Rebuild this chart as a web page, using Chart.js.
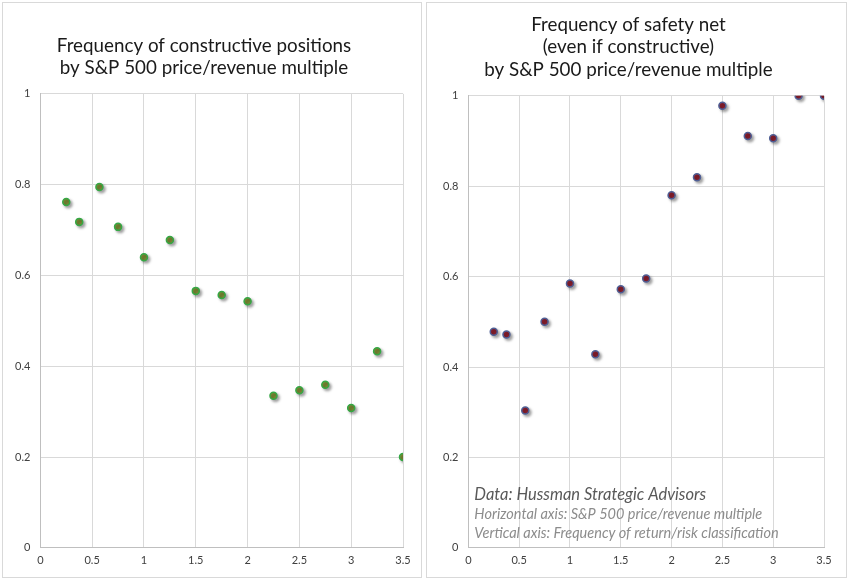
<!DOCTYPE html>
<html><head><meta charset="utf-8">
<script src="https://cdn.jsdelivr.net/npm/chart.js@4"></script>
<style>
body{margin:0;background:#fff;width:849px;height:581px;position:relative;overflow:hidden}
.p{position:absolute;top:2px;height:576px;border:1px solid #d9d9d9;box-sizing:border-box}
</style></head><body>
<div class="p" style="left:2px;width:420px"><canvas id="c1"></canvas></div>
<div class="p" style="left:426px;width:421px"><canvas id="c2"></canvas></div>
<script>
const leftX=[0.25,0.375,0.57,0.75,1,1.25,1.5,1.75,2,2.25,2.5,2.75,3,3.25,3.5];
const leftY=[0.762,0.718,0.795,0.707,0.640,0.678,0.566,0.557,0.543,0.335,0.347,0.359,0.308,0.433,0.200];
const rightX=[0.25,0.375,0.56,0.75,1,1.25,1.5,1.75,2,2.25,2.5,2.75,3,3.25,3.5];
const rightY=[0.478,0.472,0.304,0.500,0.585,0.428,0.572,0.596,0.780,0.820,0.978,0.911,0.906,1.0,1.0];
const leftTitle=["Frequency of constructive positions","by S&P 500 price/revenue multiple"];
const rightTitle=["Frequency of safety net","(even if constructive)","by S&P 500 price/revenue multiple"];
const notes=["Data: Hussman Strategic Advisors","Horizontal axis: S&P 500 price/revenue multiple","Vertical axis: Frequency of return/risk classification"];

const shadow={id:'sh',beforeDatasetsDraw(c){c.ctx.save();c.ctx.shadowColor='rgba(0,0,0,0.35)';c.ctx.shadowBlur=3;c.ctx.shadowOffsetX=2;c.ctx.shadowOffsetY=2;},afterDatasetsDraw(c){c.ctx.restore();}};
const fmt=v=>String(Math.round(v*10)/10);
function make(id,xs,ys,title,fill,border,pad,extra){
  const tick={font:{family:'Lato',size:11},color:'#404040',callback:fmt};
  return new Chart(document.getElementById(id),{
    type:'scatter',
    data:{datasets:[{data:xs.map((x,i)=>({x,y:ys[i]})),backgroundColor:fill,borderColor:border,borderWidth:1.5,pointRadius:3.5}]},
    options:{responsive:true,maintainAspectRatio:false,animation:false,
      layout:{padding:pad},
      plugins:{legend:{display:false},tooltip:{enabled:false},
        title:{display:true,text:title,font:{family:'Lato',size:18.8,weight:'normal',lineHeight:1.22},color:'#1a1a1a',padding:{top:0,bottom:14}}},
      scales:{
        x:{type:'linear',min:0,max:3.5,ticks:{...tick,stepSize:0.5,padding:6},grid:{color:'#d9d9d9',drawTicks:false},border:{color:'#bfbfbf'}},
        y:{min:0,max:1,ticks:{...tick,stepSize:0.2,padding:10},grid:{color:'#d9d9d9',drawTicks:false},border:{color:'#bfbfbf'}}
      }},
    plugins:[shadow].concat(extra||[])
  });
}
make('c1',leftX,leftY,leftTitle,'#7d8c35','#35a845',{top:31,left:2,right:18,bottom:4});
const noteP={id:'notes',afterDraw(c){const ctx=c.ctx,a=c.chartArea;ctx.save();ctx.textBaseline='alphabetic';
  ctx.font='italic 16.5px Lato';ctx.fillStyle='#595959';ctx.fillText(notes[0],a.left+6,a.bottom-48);
  ctx.font='italic 14.5px Lato';ctx.fillStyle='#8c8c8c';ctx.fillText(notes[1],a.left+6,a.bottom-29);ctx.fillText(notes[2],a.left+6,a.bottom-10);ctx.restore();}};
make('c2',rightX,rightY,rightTitle,'#8b1f2e','#4f5f95',{top:10,left:6,right:22,bottom:4},[noteP]);
</script></body></html>
